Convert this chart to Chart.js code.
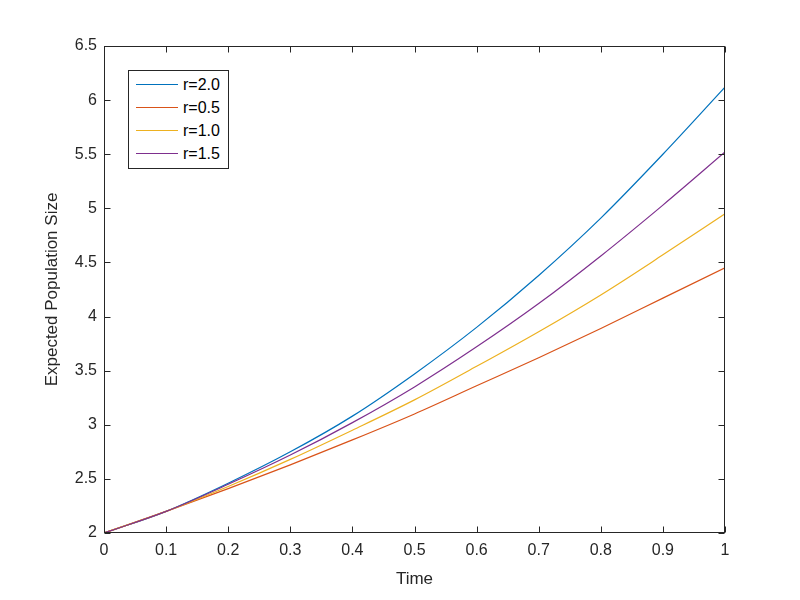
<!DOCTYPE html>
<html>
<head>
<meta charset="utf-8">
<script src="https://cdn.jsdelivr.net/npm/chart.js@4"></script>
<style>
body { margin: 0; background: #fff; }
#wrap { position: relative; width: 800px; height: 600px; }
#legend {
	position: absolute; left: 128px; top: 70px; width: 101px; height: 99px;
	border: 1px solid #262626; background: #fff; box-sizing: border-box;
	padding-top: 2px; font: 16px "Liberation Sans", Arial, sans-serif; color: #000;
}
#legend .row { height: 23px; display: flex; align-items: center; }
#legend .sw { width: 42px; height: 1px; margin: 0 5px 0 7px; }
</style>
</head>
<body>
<div id="wrap">
	<canvas id="chart" width="800" height="600"></canvas>
	<div id="legend"></div>
</div>
<script>
// values
var times = [0, 0.1, 0.2, 0.3, 0.4, 0.5, 0.6, 0.7, 0.8, 0.9, 1];
var seriesLabels = ["r=2.0", "r=0.5", "r=1.0", "r=1.5"];
var seriesColors = ["#0072BD", "#D95319", "#EDB120", "#7E2F8E"];
var popR20 = [2, 2.2, 2.46, 2.75, 3.08, 3.47, 3.9, 4.38, 4.91, 5.5, 6.12];
var popR05 = [2, 2.2, 2.41, 2.63, 2.86, 3.1, 3.36, 3.62, 3.89, 4.17, 4.45];
var popR10 = [2, 2.2, 2.43, 2.68, 2.95, 3.23, 3.54, 3.86, 4.2, 4.57, 4.95];
var popR15 = [2, 2.2, 2.45, 2.72, 3.02, 3.35, 3.72, 4.12, 4.56, 5.03, 5.52];
var seriesValues = [popR20, popR05, popR10, popR15];

var axisColor = "#262626";
var fontFamily = '"Liberation Sans", Arial, sans-serif';

function toPoints(vals){
	return times.map(function(t, i){ return {x: t, y: vals[i]}; });
}

// plain numbers: 0, 0.1 ... 1 and 2, 2.5 ... 6.5
function plainTick(value){
	return String(+value.toFixed(2));
}

var datasets = seriesLabels.map(function(label, i){
	return {
		label: label,
		data: toPoints(seriesValues[i]),
		borderColor: seriesColors[i],
		backgroundColor: seriesColors[i],
		borderWidth: 1.2,
		pointRadius: 0,
		cubicInterpolationMode: "monotone",
		fill: false,
		order: 4 - i // last series on top, like the original
	};
});

// box round the plot and inward ticks on every side
var boxPlugin = {
	id: "box",
	afterDatasetsDraw: function(chart){
		var ctx = chart.ctx, a = chart.chartArea;
		var xs = chart.scales.x, ys = chart.scales.y;
		var L = Math.round(a.left) + 0.5, R = Math.round(a.right) - 0.5;
		var T = Math.round(a.top) + 0.5, B = Math.round(a.bottom) - 0.5;
		ctx.save();
		ctx.strokeStyle = axisColor;
		ctx.lineWidth = 1;
		ctx.beginPath();
		xs.ticks.forEach(function(t){
			var px = Math.round(xs.getPixelForValue(t.value)) + 0.5;
			ctx.moveTo(px, B); ctx.lineTo(px, B - 6);
			ctx.moveTo(px, T); ctx.lineTo(px, T + 6);
		});
		ys.ticks.forEach(function(t){
			var py = Math.round(ys.getPixelForValue(t.value)) + 0.5;
			ctx.moveTo(L, py); ctx.lineTo(L + 6, py);
			ctx.moveTo(R, py); ctx.lineTo(R - 6, py);
		});
		ctx.stroke();
		ctx.strokeRect(L, T, R - L, B - T);
		ctx.restore();
	}
};

var ctx = document.getElementById("chart").getContext("2d");
var myChart = new Chart(ctx, {
	type: "line",
	data: { datasets: datasets },
	options: {
		responsive: false,
		animation: false,
		devicePixelRatio: 1,
		layout: { padding: { top: 46, right: 75, left: 0, bottom: 0 } },
		plugins: {
			legend: { display: false },
			tooltip: { enabled: false }
		},
		scales: {
			x: {
				type: "linear",
				min: 0, max: 1,
				grid: { display: false, drawTicks: false },
				border: { display: false },
				ticks: {
					stepSize: 0.1,
					color: axisColor,
					font: { family: fontFamily, size: 16 },
					padding: 8,
					maxRotation: 0,
					callback: plainTick
				},
				title: {
					display: true, text: "Time", color: axisColor,
					font: { family: fontFamily, size: 17 },
					padding: { top: 0, bottom: 10 }
				},
				afterFit: function(s){ s.height = 67; }
			},
			y: {
				min: 2, max: 6.5,
				grid: { display: false, drawTicks: false },
				border: { display: false },
				ticks: {
					stepSize: 0.5,
					color: axisColor,
					font: { family: fontFamily, size: 16 },
					padding: 7,
					callback: plainTick
				},
				title: {
					display: true, text: "Expected Population Size", color: axisColor,
					font: { family: fontFamily, size: 17 },
					padding: { top: 42, bottom: 0 }
				},
				afterFit: function(s){ s.width = 104; }
			}
		}
	},
	plugins: [boxPlugin]
});

// legend box in the upper left, as in the original
var legend = document.getElementById("legend");
seriesLabels.forEach(function(label, i){
	var row = document.createElement("div");
	row.className = "row";
	var sw = document.createElement("span");
	sw.className = "sw";
	sw.style.background = seriesColors[i];
	var txt = document.createElement("span");
	txt.textContent = label;
	row.appendChild(sw);
	row.appendChild(txt);
	legend.appendChild(row);
});
</script>
</body>
</html>
